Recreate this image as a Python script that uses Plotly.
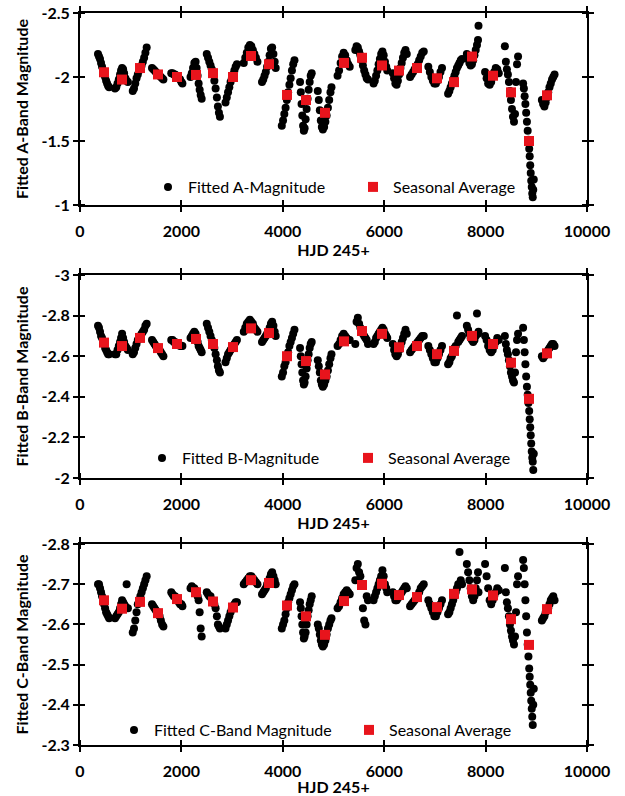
import plotly.graph_objects as go

# ---------------- data ----------------
hjd = [
    355, 375, 395, 415, 435, 455, 475, 495, 515, 535, 555, 575,
    690, 715, 740, 765, 790, 810, 830, 850, 870, 895, 920, 945,
    1040, 1065, 1090, 1115, 1140, 1165, 1190, 1215, 1240, 1265, 1290, 1315,
    1420, 1445, 1470, 1495, 1520, 1545, 1570, 1595, 1620, 1645,
    1800, 1825, 1850, 1875, 1900, 1925, 1950, 1975, 2000, 2020,
    2180, 2205, 2230, 2255, 2280, 2300, 2320, 2340, 2360, 2380, 2400,
    2500, 2525, 2550, 2575, 2600, 2625, 2650, 2675, 2700, 2720, 2740, 2760,
    2870, 2895, 2920, 2945, 2970, 2995, 3020, 3045, 3070, 3095,
    3230, 3260, 3290, 3320, 3350, 3380, 3410, 3440, 3470, 3500,
    3590, 3615, 3640, 3665, 3690, 3715, 3740, 3765, 3790, 3815, 3840, 3860,
    3980, 4005, 4030, 4055, 4080, 4105, 4130, 4155, 4180, 4205, 4230,
    4340, 4355, 4370, 4385, 4400, 4415, 4430, 4450, 4470, 4490, 4510, 4530, 4550, 4570,
    4690, 4710, 4730, 4750, 4770, 4790, 4815, 4840, 4865, 4890, 4915, 4940, 4960,
    5080, 5110, 5140, 5170, 5200, 5230, 5260, 5290, 5320,
    5430, 5455, 5480, 5505, 5530, 5555, 5580, 5605, 5630, 5655, 5680,
    5790, 5815, 5840, 5865, 5890, 5915, 5940, 5965, 5990, 6015, 6040, 6060,
    6170, 6195, 6220, 6245, 6270, 6295, 6320, 6345, 6370, 6395, 6420, 6445,
    6510, 6540, 6570, 6600, 6630, 6660, 6690, 6720, 6750, 6780,
    6870, 6900, 6930, 6960, 6990, 7020, 7050, 7080, 7110, 7140,
    7260, 7285, 7310, 7335, 7360, 7385, 7410, 7435, 7460, 7485, 7510, 7535,
    7630, 7655, 7680, 7705, 7730, 7755, 7780, 7805, 7830, 7850, 7860,
    7990, 8020, 8050, 8080, 8110, 8140, 8170, 8200, 8230, 8260,
    8380, 8400, 8420, 8440, 8460, 8480, 8500, 8520, 8540, 8560, 8580, 8600, 8620, 8640,
    8740, 8755, 8770, 8785, 8800, 8815, 8830, 8845, 8860, 8870, 8880, 8890, 8900, 8910, 8920, 8930, 8940, 8950,
    9110, 9135, 9160, 9185, 9210, 9235, 9260, 9285, 9310, 9335, 9360,
]

mag_a = [
    -2.18, -2.16, -2.14, -2.11, -2.08, -2.05, -2.02, -2.00, -1.97, -1.95, -1.93, -1.92,
    -1.91, -1.92, -1.95, -1.98, -2.02, -2.05, -2.07, -2.06, -2.03, -1.99, -1.97, -1.96,
    -1.89, -1.91, -1.95, -1.99, -2.02, -2.05, -2.07, -2.09, -2.12, -2.15, -2.19, -2.23,
    -2.07, -2.06, -2.05, -2.04, -2.03, -2.02, -2.01, -2.00, -1.99, -1.98,
    -2.03, -2.03, -2.02, -2.02, -2.01, -2.00, -1.99, -1.98, -1.96, -1.95,
    -2.00, -2.03, -2.07, -2.11, -2.12, -2.07, -2.01, -1.95, -1.90, -1.86, -1.83,
    -2.18, -2.15, -2.12, -2.09, -2.06, -2.02, -1.97, -1.91, -1.84, -1.77, -1.72, -1.69,
    -1.80, -1.84, -1.88, -1.92, -1.96, -1.99, -2.02, -2.05, -2.08, -2.10,
    -2.11, -2.15, -2.19, -2.23, -2.25, -2.24, -2.21, -2.18, -2.15, -2.12,
    -1.96, -1.98, -2.01, -2.04, -2.08, -2.12, -2.17, -2.22, -2.23, -2.18, -2.12, -2.07,
    -1.62, -1.66, -1.71, -1.76, -1.82, -1.88, -1.94, -1.99, -2.05, -2.10, -2.13,
    -1.96, -1.88, -1.79, -1.70, -1.62, -1.58, -1.60, -1.67, -1.75, -1.83, -1.90, -1.96, -2.01, -2.03,
    -1.89, -1.82, -1.74, -1.66, -1.61, -1.59, -1.61, -1.65, -1.70, -1.76, -1.82, -1.88, -1.92,
    -2.01, -2.05, -2.11, -2.16, -2.19, -2.17, -2.13, -2.10, -2.08,
    -2.21, -2.24, -2.23, -2.20, -2.17, -2.13, -2.09, -2.05, -2.02, -1.99, -1.98,
    -1.95, -1.97, -2.01, -2.05, -2.10, -2.14, -2.18, -2.20, -2.17, -2.12, -2.08, -2.05,
    -2.03, -1.99, -1.95, -1.94, -1.97, -2.02, -2.07, -2.11, -2.15, -2.19, -2.21, -2.18,
    -2.00, -2.02, -2.04, -2.06, -2.08, -2.10, -2.13, -2.16, -2.19, -2.20,
    -2.08, -2.04, -2.00, -1.97, -1.95, -1.95, -1.97, -2.00, -2.04, -2.07,
    -1.87, -1.89, -1.92, -1.95, -1.98, -2.01, -2.04, -2.07, -2.09, -2.11, -2.13, -2.14,
    -2.18, -2.14, -2.11, -2.09, -2.10, -2.13, -2.17, -2.21, -2.25, -2.29, -2.40,
    -2.04, -1.99, -1.95, -1.94, -1.96, -2.00, -2.04, -2.07, -2.06, -2.03,
    -2.24, -2.12, -2.06, -2.02, -1.96, -1.89, -1.82, -1.75, -1.69, -1.65, -1.71, -1.96, -2.10, -2.16,
    -1.95, -1.91, -1.85, -1.79, -1.72, -1.65, -1.58, -1.51, -1.44, -1.38, -1.31, -1.25, -1.19, -1.14, -1.09, -1.06, -1.12, -1.20,
    -1.82, -1.79, -1.77, -1.80, -1.84, -1.88, -1.92, -1.95, -1.98, -2.00, -2.02,
]

mag_b = [
    -2.75, -2.74, -2.72, -2.70, -2.69, -2.67, -2.66, -2.64, -2.63, -2.62, -2.61, -2.61,
    -2.61, -2.61, -2.63, -2.65, -2.67, -2.69, -2.71, -2.69, -2.67, -2.65, -2.64, -2.63,
    -2.61, -2.62, -2.64, -2.66, -2.68, -2.69, -2.70, -2.71, -2.72, -2.73, -2.75, -2.76,
    -2.68, -2.67, -2.66, -2.65, -2.64, -2.64, -2.63, -2.62, -2.61, -2.60,
    -2.68, -2.68, -2.67, -2.67, -2.66, -2.66, -2.66, -2.65, -2.65, -2.65,
    -2.69, -2.70, -2.71, -2.72, -2.71, -2.69, -2.67, -2.65, -2.64, -2.63, -2.62,
    -2.76, -2.74, -2.72, -2.70, -2.68, -2.66, -2.64, -2.61, -2.58, -2.55, -2.53, -2.52,
    -2.57, -2.59, -2.61, -2.62, -2.63, -2.64, -2.65, -2.66, -2.67, -2.68,
    -2.72, -2.74, -2.76, -2.77, -2.78, -2.77, -2.76, -2.74, -2.73, -2.72,
    -2.67, -2.68, -2.69, -2.70, -2.71, -2.72, -2.74, -2.76, -2.77, -2.75, -2.72, -2.70,
    -2.50, -2.52, -2.55, -2.57, -2.60, -2.62, -2.65, -2.67, -2.69, -2.71, -2.73,
    -2.64, -2.60, -2.56, -2.52, -2.48, -2.46, -2.47, -2.50, -2.54, -2.58, -2.61, -2.64, -2.66, -2.67,
    -2.58, -2.55, -2.52, -2.48, -2.46, -2.45, -2.46, -2.48, -2.50, -2.53, -2.56, -2.59, -2.61,
    -2.65, -2.66, -2.68, -2.70, -2.71, -2.70, -2.69, -2.68, -2.68,
    -2.66, -2.77, -2.79, -2.76, -2.74, -2.72, -2.71, -2.70, -2.69, -2.68, -2.66,
    -2.66, -2.67, -2.69, -2.70, -2.71, -2.72, -2.73, -2.74, -2.73, -2.71, -2.70, -2.69,
    -2.66, -2.63, -2.61, -2.60, -2.61, -2.63, -2.65, -2.67, -2.69, -2.71, -2.73, -2.71,
    -2.62, -2.63, -2.64, -2.65, -2.66, -2.67, -2.68, -2.69, -2.70, -2.70,
    -2.65, -2.63, -2.61, -2.59, -2.57, -2.57, -2.59, -2.61, -2.63, -2.65,
    -2.56, -2.57, -2.59, -2.60, -2.62, -2.64, -2.65, -2.80, -2.67, -2.68, -2.69, -2.70,
    -2.75, -2.73, -2.71, -2.69, -2.68, -2.67, -2.68, -2.70, -2.81, -2.71, -2.72,
    -2.70, -2.68, -2.65, -2.63, -2.62, -2.63, -2.65, -2.67, -2.69, -2.68,
    -2.70, -2.66, -2.63, -2.61, -2.58, -2.55, -2.52, -2.50, -2.48, -2.47, -2.52, -2.62, -2.68, -2.71,
    -2.74, -2.68, -2.62, -2.56, -2.50, -2.45, -2.41, -2.37, -2.33, -2.29, -2.25, -2.21, -2.17, -2.13, -2.10, -2.08, -2.04, -2.12,
    -2.60, -2.59, -2.60, -2.61, -2.62, -2.63, -2.64, -2.65, -2.66, -2.66, -2.65,
]

mag_c = [
    -2.70, -2.70, -2.69, -2.68, -2.67, -2.66, -2.65, -2.64, -2.63, -2.625, -2.62, -2.615,
    -2.615, -2.62, -2.625, -2.63, -2.64, -2.65, -2.66, -2.655, -2.65, -2.645, -2.70, -2.64,
    -2.58, -2.59, -2.61, -2.63, -2.65, -2.66, -2.67, -2.68, -2.69, -2.70, -2.71, -2.72,
    -2.65, -2.645, -2.64, -2.635, -2.63, -2.625, -2.62, -2.61, -2.60, -2.595,
    -2.68, -2.675, -2.67, -2.67, -2.665, -2.66, -2.655, -2.65, -2.65, -2.645,
    -2.69, -2.695, -2.69, -2.69, -2.685, -2.68, -2.67, -2.66, -2.63, -2.59, -2.57,
    -2.68, -2.675, -2.67, -2.67, -2.66, -2.655, -2.65, -2.64, -2.62, -2.60, -2.595, -2.59,
    -2.59, -2.60, -2.61, -2.62, -2.63, -2.64, -2.645, -2.65, -2.655, -2.655,
    -2.70, -2.705, -2.71, -2.715, -2.72, -2.72, -2.715, -2.71, -2.705, -2.70,
    -2.675, -2.68, -2.685, -2.69, -2.70, -2.705, -2.715, -2.725, -2.73, -2.72, -2.71, -2.70,
    -2.59, -2.60, -2.61, -2.625, -2.64, -2.655, -2.665, -2.675, -2.685, -2.695, -2.70,
    -2.655, -2.64, -2.62, -2.60, -2.58, -2.565, -2.57, -2.58, -2.60, -2.62, -2.635, -2.65, -2.66, -2.67,
    -2.60, -2.59, -2.575, -2.56, -2.55, -2.545, -2.55, -2.56, -2.575, -2.59, -2.60, -2.61, -2.615,
    -2.64, -2.645, -2.655, -2.665, -2.675, -2.68, -2.685, -2.68, -2.675,
    -2.71, -2.74, -2.75, -2.73, -2.72, -2.70, -2.64, -2.61, -2.60, -2.67, -2.66,
    -2.66, -2.67, -2.68, -2.69, -2.70, -2.71, -2.72, -2.735, -2.72, -2.70, -2.69, -2.68,
    -2.68, -2.67, -2.66, -2.66, -2.665, -2.67, -2.675, -2.68, -2.685, -2.69, -2.695, -2.69,
    -2.645, -2.65, -2.655, -2.66, -2.665, -2.67, -2.68, -2.69, -2.695, -2.70,
    -2.66, -2.65, -2.64, -2.63, -2.62, -2.62, -2.63, -2.64, -2.65, -2.66,
    -2.625, -2.63, -2.64, -2.65, -2.66, -2.67, -2.68, -2.69, -2.70, -2.78, -2.71, -2.70,
    -2.75, -2.73, -2.71, -2.69, -2.67, -2.66, -2.67, -2.69, -2.71, -2.73, -2.68,
    -2.75, -2.72, -2.69, -2.66, -2.65, -2.66, -2.67, -2.68, -2.69, -2.685,
    -2.74, -2.68, -2.655, -2.64, -2.62, -2.60, -2.585, -2.57, -2.56, -2.55, -2.57, -2.63, -2.70, -2.72,
    -2.76, -2.74, -2.70, -2.66, -2.62, -2.58, -2.55, -2.52, -2.49, -2.47, -2.45, -2.43, -2.41, -2.39, -2.37, -2.35, -2.40, -2.44,
    -2.61, -2.615, -2.62, -2.63, -2.635, -2.64, -2.65, -2.66, -2.665, -2.67, -2.66,
]

season_hjd = [473, 828, 1183, 1538, 1913, 2288, 2623, 3018, 3373, 3728, 4083, 4458, 4832,
              5207, 5562, 5957, 6292, 6647, 7041, 7377, 7732, 8146, 8501, 8856, 9211]
avg_a = [-2.037, -1.98, -2.07, -2.02, -2.00, -2.016, -2.03, -2.00, -2.164, -2.10, -1.86, -1.82, -1.72,
         -2.11, -2.15, -2.09, -2.05, -2.07, -1.99, -1.96, -2.16, -2.01, -1.88, -1.50, -1.857]
avg_b = [-2.667, -2.65, -2.69, -2.64, -2.66, -2.685, -2.66, -2.645, -2.737, -2.714, -2.60, -2.576, -2.51,
         -2.673, -2.724, -2.71, -2.644, -2.65, -2.61, -2.626, -2.70, -2.66, -2.568, -2.39, -2.614]
avg_c = [-2.66, -2.639, -2.656, -2.628, -2.663, -2.68, -2.657, -2.642, -2.71, -2.703, -2.647, -2.62, -2.574,
         -2.658, -2.698, -2.701, -2.673, -2.668, -2.643, -2.676, -2.687, -2.672, -2.613, -2.549, -2.638]

x_tick_vals = [0, 2000, 4000, 6000, 8000, 10000]
a_tick_vals = [-2.5, -2, -1.5, -1]
a_tick_text = ["-2.5", "-2", "-1.5", "-1"]
b_tick_vals = [-3, -2.8, -2.6, -2.4, -2.2, -2]
b_tick_text = ["-3", "-2.8", "-2.6", "-2.4", "-2.2", "-2"]
c_tick_vals = [-2.8, -2.7, -2.6, -2.5, -2.4, -2.3]
c_tick_text = ["-2.8", "-2.7", "-2.6", "-2.5", "-2.4", "-2.3"]

dot_names = ["Fitted A-Magnitude", "Fitted B-Magnitude", "Fitted C-Band Magnitude"]
y_titles = ["Fitted A-Band Magnitude", "Fitted B-Band Magnitude", "Fitted C-Band Magnitude"]

assert len(hjd) == len(mag_a) == len(mag_b) == len(mag_c)

# ---------------- figure ----------------
W, H = 625, 796
ML, MR, MT, MB = 80, 38, 13, 51
PW, PH = W - ML - MR, H - MT - MB

def py(y):  # pixel y -> paper y
    return (H - MB - y) / PH

def px(x):  # pixel x -> paper x
    return (x - ML) / PW

FONT = "Lato"
RED = "#E8141C"

fig = go.Figure()
panels = [
    (mag_a, avg_a, a_tick_vals, a_tick_text, [-1, -2.5], (13, 205)),
    (mag_b, avg_b, b_tick_vals, b_tick_text, [-2, -3], (275, 478)),
    (mag_c, avg_c, c_tick_vals, c_tick_text, [-2.3, -2.8], (544, 745)),
]
legend_pos = [((148, 187), (353, 187)), ((142, 458), (348, 458)), ((114, 730), (349, 730))]

layout = dict(
    width=W, height=H, margin=dict(l=ML, r=MR, t=MT, b=MB, autoexpand=False),
    paper_bgcolor="white", plot_bgcolor="white", showlegend=True,
    font=dict(family=FONT, size=16, color="black"),
)

for i, (mags, avgs, tv, tt, yr, (ytop, ybot)) in enumerate(panels):
    n = i + 1
    xa = "x" if n == 1 else f"x{n}"
    ya = "y" if n == 1 else f"y{n}"
    lg_dot = "legend" if i == 0 else f"legend{2 * i + 1}"
    lg_sq = f"legend{2 * i + 2}"
    fig.add_trace(go.Scatter(
        x=hjd, y=mags, mode="markers", name=dot_names[i], xaxis=xa, yaxis=ya,
        marker=dict(color="black", size=8, symbol="circle"), legend=lg_dot,
    ))
    fig.add_trace(go.Scatter(
        x=season_hjd, y=avgs, mode="markers", name="Seasonal Average", xaxis=xa, yaxis=ya,
        marker=dict(color=RED, size=10, symbol="square"), legend=lg_sq,
    ))
    axis_common = dict(
        showline=True, linecolor="black", linewidth=2, mirror="ticks",
        ticks="outside", ticklen=5, tickwidth=2, tickcolor="black",
        showgrid=False, zeroline=False, automargin=False,
        tickfont=dict(family=FONT, size=16, color="black", weight="bold"),
    )
    layout[f"xaxis{'' if n == 1 else n}"] = dict(
        axis_common, domain=[0, 1], anchor=ya, range=[0, 10000],
        tickvals=x_tick_vals, ticktext=[str(v) for v in x_tick_vals],
        ticklabelstandoff=6,
        minor=dict(ticks="inside", ticklen=5, tickwidth=2, tickcolor="black",
                   tickvals=[v + 0.5 for v in x_tick_vals]),
        title=dict(text="HJD 245+", standoff=0,
                   font=dict(family=FONT, size=16, color="black", weight="bold")),
    )
    layout[f"yaxis{'' if n == 1 else n}"] = dict(
        axis_common, domain=[py(ybot), py(ytop)], anchor=xa, range=yr,
        tickvals=tv, ticktext=tt,
        minor=dict(ticks="inside", ticklen=5, tickwidth=2, tickcolor="black",
                   tickvals=[v + 0.0001 for v in tv]),
        title=dict(text=y_titles[i], standoff=9,
                   font=dict(family=FONT, size=16, color="black", weight="bold")),
    )
    (dx, dy), (sx, sy) = legend_pos[i]
    for lg, (lx, ly) in ((lg_dot, (dx, dy)), (lg_sq, (sx, sy))):
        layout[lg] = dict(
            x=px(lx), y=py(ly), xanchor="left", yanchor="middle",
            bgcolor="rgba(0,0,0,0)", borderwidth=0, itemwidth=30,
            font=dict(family=FONT, size=16, color="black"),
        )

fig.update_layout(**layout)
fig.write_html("out.html", config={"displayModeBar": False},
               post_script="document.body.style.margin='0';")
